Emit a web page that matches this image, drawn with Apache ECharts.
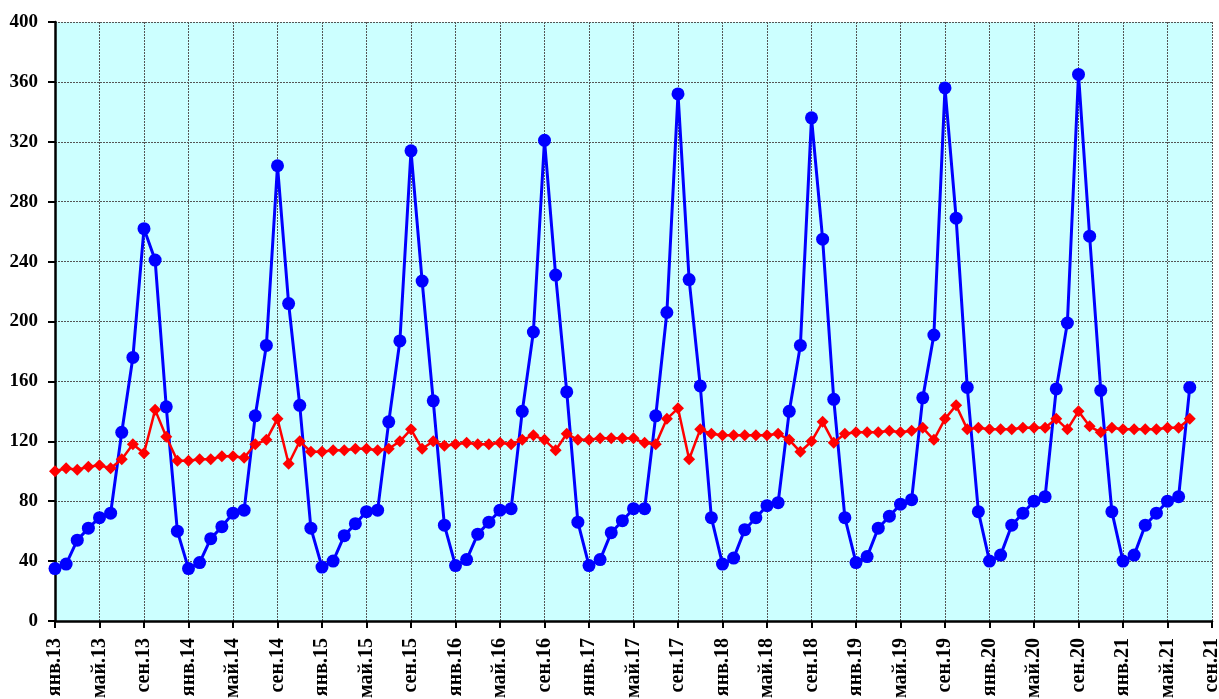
<!DOCTYPE html>
<html><head><meta charset="utf-8">
<script src="https://cdn.jsdelivr.net/npm/echarts@6/dist/echarts.min.js"></script>
<style>html,body{margin:0;padding:0;background:#fff}#c{width:1219px;height:699px}</style>
</head><body><div id="c"></div>
<script>
const monthNames = ['янв','фев','мар','апр','май','июн','июл','авг','сен','окт','ноя','дек'];
const years = [13,14,15,16,17,18,19,20,21];
const categories = [];
for (const y of years) for (let m = 0; m < 12; m++) { if (y === 21 && m > 8) break; categories.push(monthNames[m] + '.' + y); }

const blueValues = [
  35,38,54,62,69,72,126,176,262,241,143,60,
  35,39,55,63,72,74,137,184,304,212,144,62,
  36,40,57,65,73,74,133,187,314,227,147,64,
  37,41,58,66,74,75,140,193,321,231,153,66,
  37,41,59,67,75,75,137,206,352,228,157,69,
  38,42,61,69,77,79,140,184,336,255,148,69,
  39,43,62,70,78,81,149,191,356,269,156,73,
  40,44,64,72,80,83,155,199,365,257,154,73,
  40,44,64,72,80,83,156
];
const redValues = [
  100,102,101,103,104,102,108,118,112,141,123,107,
  107,108,108,110,110,109,118,121,135,105,120,113,
  113,114,114,115,115,114,115,120,128,115,120,117,
  118,119,118,118,119,118,121,124,121,114,125,121,
  121,122,122,122,122,119,118,135,142,108,128,125,
  124,124,124,124,124,125,121,113,120,133,119,125,
  126,126,126,127,126,127,129,121,135,144,128,129,
  128,128,128,129,129,129,135,128,140,130,126,129,
  128,128,128,128,129,129,135
];
const yTicks = {min: 0, max: 400, interval: 40};

const fontBase = {fontFamily: '"Liberation Serif", "Times New Roman", serif', fontWeight: 'bold', color: '#000'};
const chart = echarts.init(document.getElementById('c'), null, {renderer: 'canvas'});
chart.setOption({
  animation: false,
  backgroundColor: '#ffffff',
  grid: {left: 55, right: 7, top: 22, bottom: 78, show: true, backgroundColor: '#CCFFFF', borderWidth: 0,
         containLabel: false, outerBoundsMode: 'none'},
  xAxis: {
    type: 'category', data: categories, boundaryGap: false,
    axisLine: {lineStyle: {color: '#000', width: 2.5}},
    axisTick: {interval: 3, length: 7, lineStyle: {color: '#000', width: 2}},
    axisLabel: Object.assign({interval: 3, rotate: 90, margin: 17, fontSize: 20}, fontBase),
    splitLine: {show: true, interval: 3, lineStyle: {color: '#555', type: [2, 1], width: 1}}
  },
  yAxis: {
    type: 'value', min: yTicks.min, max: yTicks.max, interval: yTicks.interval,
    axisLine: {show: true, lineStyle: {color: '#000', width: 2.5}},
    axisTick: {show: true, length: 7, lineStyle: {color: '#000', width: 2}},
    axisLabel: Object.assign({margin: 17, fontSize: 19}, fontBase),
    splitLine: {show: true, lineStyle: {color: '#555', type: [2, 1], width: 1}}
  },
  series: [
    {type: 'line', data: blueValues, symbol: 'circle', symbolSize: 13, showAllSymbol: true,
     lineStyle: {color: '#0000FF', width: 3}, itemStyle: {color: '#0000FF'}, z: 3},
    {type: 'line', data: redValues, symbol: 'diamond', symbolSize: 12, showAllSymbol: true,
     lineStyle: {color: '#FF0000', width: 2.5}, itemStyle: {color: '#FF0000'}, z: 4}
  ]
});
</script></body></html>
